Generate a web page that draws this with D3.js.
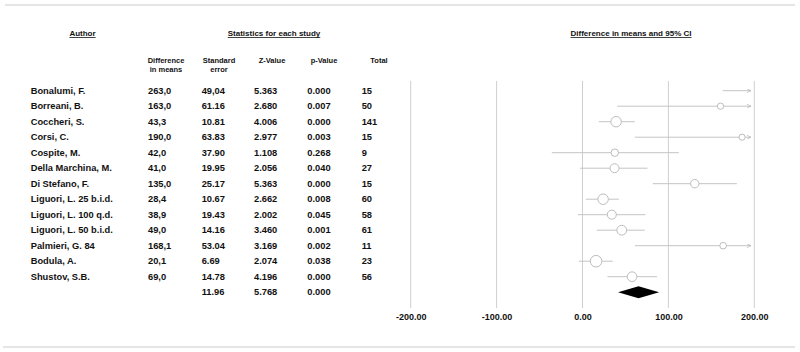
<!DOCTYPE html>
<html>
<head>
<meta charset="utf-8">
<script src="https://cdn.jsdelivr.net/npm/d3@7/dist/d3.min.js"></script>
<style>
    body { margin: 0; background: #fff; }
    svg text { font-family: "Liberation Sans", Arial, sans-serif; font-weight: bold; fill: #111; }
</style>
</head>
<body>
<div id="chart"></div>
<script>
// study table, as printed
var authors = ["Bonalumi, F.", "Borreani, B.", "Coccheri, S.", "Corsi, C.", "Cospite, M.",
    "Della Marchina, M.", "Di Stefano, F.", "Liguori, L. 25 b.i.d.", "Liguori, L. 100 q.d.",
    "Liguori, L. 50 b.i.d.", "Palmieri, G. 84", "Bodula, A.", "Shustov, S.B."];
var diffText = ["263,0", "163,0", "43,3", "190,0", "42,0", "41,0", "135,0", "28,4", "38,9", "49,0", "168,1", "20,1", "69,0"];
var seText = ["49,04", "61.16", "10.81", "63.83", "37.90", "19.95", "25.17", "10.67", "19.43", "14.16", "53.04", "6.69", "14.78"];
var zText = ["5.363", "2.680", "4.006", "2.977", "1.108", "2.056", "5.363", "2.662", "2.002", "3.460", "3.169", "2.074", "4.196"];
var pText = ["0.000", "0.007", "0.000", "0.003", "0.268", "0.040", "0.000", "0.008", "0.045", "0.001", "0.002", "0.038", "0.000"];
var totals = ["15", "50", "141", "15", "9", "27", "15", "60", "58", "61", "11", "23", "56"];
var summaryText = ["", "11.96", "5.768", "0.000", ""];

// standard errors (drive the marker size)
var stdErr = [49.04, 61.16, 10.81, 63.83, 37.90, 19.95, 25.17, 10.67, 19.43, 14.16, 53.04, 6.69, 14.78];

// what the forest plot shows
var plotMean = [263, 160.7, 39.1, 185.8, 37.6, 37.3, 130.7, 24.0, 34.1, 45.7, 163.7, 15.8, 57.7];
var plotLow = [163.2, 40.3, 19.0, 60.9, -35.7, -2.8, 81.8, 3.8, -5.5, 16.6, 61.0, -4.3, 29.1];
var plotHigh = [360, 283, 60.9, 315, 112.1, 75.7, 179.7, 42.3, 73.3, 72.5, 272, 35.3, 86.8];
var summary = {low: 41.4, mean: 65.2, high: 89.2};

var axisTicks = [-200, -100, 0, 100, 200];

var width = 800, height = 352;

var svg = d3.select("#chart").append("svg")
    .attr("width", width)
    .attr("height", height);

// frame lines
svg.append("line").attr("x1", 5).attr("x2", 795).attr("y1", 5).attr("y2", 5)
    .attr("stroke", "#dcdcdc").attr("stroke-width", 1.5);
svg.append("line").attr("x1", 3).attr("x2", 795).attr("y1", 347).attr("y2", 347)
    .attr("stroke", "#dcdcdc").attr("stroke-width", 1.5);

var x = d3.scaleLinear().domain([-200, 200]).range([410.7, 754.3]);
var y = d3.scaleLinear().domain([0, authors.length]).range([90.7, 90.7 + 15.5 * authors.length]);
var r = d3.scaleLog().domain([6.69, 63.83]).range([5.8, 3.1]);

// header titles
function underlined(txt, cx, cy, size) {
    var t = svg.append("text")
        .attr("x", cx).attr("y", cy)
        .attr("text-anchor", "middle")
        .style("font-size", size + "px")
        .text(txt);
    var w = t.node().getComputedTextLength();
    svg.append("line")
        .attr("x1", cx - w / 2).attr("x2", cx + w / 2)
        .attr("y1", cy + 1.5).attr("y2", cy + 1.5)
        .attr("stroke", "#111").attr("stroke-width", 0.8);
}
underlined("Author", 82.5, 36, 8);
underlined("Statistics for each study", 274, 36, 8);
underlined("Difference in means and 95% CI", 631, 36, 8);

var colHeads = [["Difference", "in means"], ["Standard", "error"], ["Z-Value"], ["p-Value"], ["Total"]];
var colHeadX = [166, 219, 272, 324, 379];
var colLeft = [148, 201.7, 254, 307.3, 361.7];

colHeads.forEach(function (lines, i) {
    lines.forEach(function (ln, j) {
        svg.append("text")
            .attr("x", colHeadX[i]).attr("y", 63 + j * 8.5)
            .attr("text-anchor", "middle")
            .style("font-size", "7.5px")
            .text(ln);
    });
});

// rows of the table
var rows = svg.append("g").attr("class", "rows")
    .selectAll("g")
    .data(authors)
    .enter()
    .append("g")
    .attr("transform", function (d, i) { return "translate(0," + y(i) + ")"; });

rows.append("text").attr("x", 30.7).attr("dy", "0.35em").style("font-size", "9.3px").text(function (d) { return d; });

[diffText, seText, zText, pText, totals].forEach(function (col, c) {
    rows.append("text")
        .attr("x", colLeft[c])
        .attr("dy", "0.35em")
        .style("font-size", "9.3px")
        .text(function (d, i) { return col[i]; });
});

summaryText.forEach(function (t, c) {
    if (!t) return;
    svg.append("text")
        .attr("x", colLeft[c]).attr("y", y(authors.length))
        .attr("dy", "0.35em")
        .style("font-size", "9.3px")
        .text(t);
});

// grid
svg.append("g").selectAll("line")
    .data(axisTicks)
    .enter().append("line")
    .attr("x1", function (d) { return x(d); })
    .attr("x2", function (d) { return x(d); })
    .attr("y1", 81).attr("y2", 308)
    .attr("stroke", "#cfcfcf").attr("stroke-width", 1);

// plain hyphen for negatives, like the original
var fmt = d3.format(".2f");
var axis = d3.axisBottom(x).tickValues(axisTicks).tickSize(0).tickPadding(0)
    .tickFormat(function (d) { return fmt(d).replace("\u2212", "-"); });
var ax = svg.append("g").attr("transform", "translate(0,314)").call(axis);
ax.select(".domain").remove();
ax.selectAll("text")
    .style("font-size", "9px")
    .style("font-family", "'Liberation Sans', Arial, sans-serif")
    .style("font-weight", "bold")
    .attr("fill", "#111");

// arrow marker for clipped intervals
svg.append("defs").append("marker")
    .attr("id", "arrow")
    .attr("viewBox", "0 -5 10 10")
    .attr("refX", 10)
    .attr("markerWidth", 4)
    .attr("markerHeight", 4)
    .attr("orient", "auto")
    .attr("markerUnits", "userSpaceOnUse")
    .append("path")
    .attr("d", "M0,-5L10,0L0,5")
    .attr("fill", "none")
    .attr("stroke", "#aaa")
    .attr("stroke-width", 1.5);

var xMax = 196, xMin = -200;
var ci = svg.append("g").attr("class", "ci");

authors.forEach(function (a, i) {
    var lo = Math.max(plotLow[i], xMin), hi = Math.min(plotHigh[i], xMax);
    var clipped = plotHigh[i] > xMax;
    ci.append("line")
        .attr("x1", x(lo)).attr("x2", x(hi))
        .attr("y1", y(i)).attr("y2", y(i))
        .attr("stroke", "#c4c4c4").attr("stroke-width", 1)
        .attr("marker-end", clipped ? "url(#arrow)" : null);
    if (plotMean[i] <= 200) {
        ci.append("circle")
            .attr("cx", x(plotMean[i])).attr("cy", y(i))
            .attr("r", r(stdErr[i]))
            .attr("fill", "#fff")
            .attr("stroke", "#bdbdbd").attr("stroke-width", 1);
    }
});

// summary diamond
var sy = y(authors.length);
svg.append("path")
    .attr("d", d3.line()([[x(summary.low), sy], [x(summary.mean), sy - 6], [x(summary.high), sy], [x(summary.mean), sy + 6]]) + "Z")
    .attr("fill", "#000");
</script>
</body>
</html>
